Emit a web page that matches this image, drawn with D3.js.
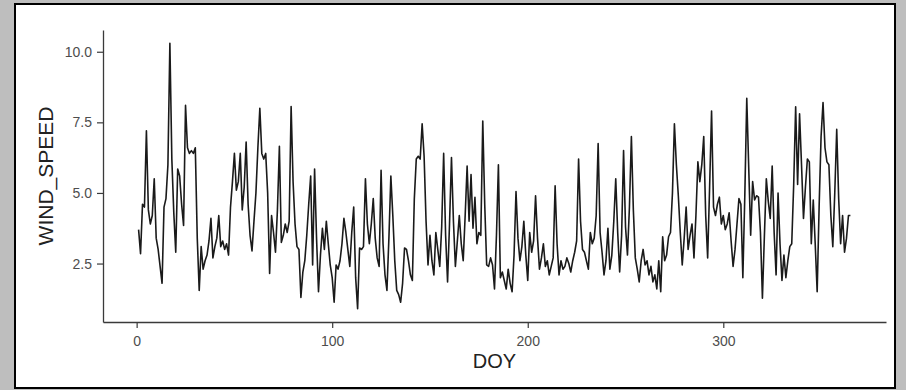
<!DOCTYPE html>
<html>
<head>
<meta charset="utf-8">
<script src="https://cdn.jsdelivr.net/npm/d3@7"></script>
<style>
  html, body { margin: 0; padding: 0; background: #bebebe; }
  svg { display: block; }
  text { font-family: "Liberation Sans", Arial, sans-serif; }
</style>
</head>
<body>
<svg id="chart" width="906" height="390"></svg>
<script>
// Daily mean wind speed, day of year 1..365
const doyStart = 1;
const windSpeed = [
  3.7, 2.85, 4.6, 4.5, 7.2, 4.4, 3.9, 4.2, 5.5, 3.4,
  3.0, 2.4, 1.8, 4.5, 4.8, 6.0, 10.3, 6.2, 4.3, 2.9,
  5.85, 5.6, 4.6, 3.85, 8.1, 6.6, 6.4, 6.5, 6.4, 6.6,
  3.4, 1.55, 3.1, 2.3, 2.6, 2.8, 3.3, 4.1, 2.7, 3.1,
  3.4, 4.2, 3.1, 3.3, 3.0, 3.2, 2.8, 4.5, 5.4, 6.4,
  5.1, 5.4, 6.4, 4.4, 5.2, 6.8, 4.6, 3.5, 2.95, 4.0,
  5.0, 6.6, 8.0, 6.4, 6.2, 6.4, 5.0, 2.15, 4.2, 3.6,
  2.9, 4.4, 6.65, 3.25, 3.5, 3.9, 3.6, 4.0, 8.06, 5.4,
  3.9, 3.1, 3.0, 1.3, 2.2, 2.6, 3.5, 4.6, 5.6, 2.45,
  5.85, 3.4, 1.5, 2.8, 3.75, 3.0, 4.0, 3.2, 2.45, 2.0,
  1.13, 2.45, 2.3, 2.6, 3.2, 4.1, 3.6, 3.0, 2.4, 3.6,
  4.5, 2.0, 0.9, 3.05, 3.0, 3.1, 5.5, 3.9, 3.2, 3.9,
  4.8, 3.4, 2.7, 2.4, 5.8, 3.2, 2.1, 1.55, 3.4, 5.6,
  4.2, 2.6, 1.55, 1.4, 1.13, 1.8, 3.05, 3.0, 2.6, 2.1,
  1.9, 4.8, 6.2, 6.3, 6.2, 7.45, 6.3, 4.0, 2.45, 3.5,
  2.6, 2.1, 3.6, 3.0, 2.4, 3.8, 6.4, 3.5, 1.85, 3.9,
  6.25, 4.0, 2.4, 3.3, 4.2, 3.2, 2.6, 4.2, 5.95, 4.0,
  5.65, 3.75, 4.85, 3.2, 3.6, 3.5, 7.55, 4.6, 2.45, 2.4,
  2.7, 2.45, 1.6, 3.5, 6.0, 2.0, 2.2, 1.9, 1.6, 2.3,
  1.8, 1.5, 2.8, 5.05, 3.4, 2.6, 3.1, 4.0, 2.8, 1.9,
  3.6, 2.9, 3.3, 4.9, 3.4, 2.3, 2.7, 3.2, 2.4, 2.6,
  2.1, 2.4, 2.7, 5.25, 3.2, 2.1, 2.6, 2.3, 2.4, 2.7,
  2.5, 2.2, 2.6, 2.9, 3.3, 6.2, 4.0, 3.0, 2.9, 2.6,
  2.3, 3.6, 3.2, 3.4, 4.2, 6.75, 3.6, 2.9, 2.1, 2.6,
  3.75, 2.3, 2.8, 4.0, 5.5, 3.6, 2.2, 3.5, 6.5, 3.8,
  2.8, 4.5, 7.0, 4.4, 2.7, 2.3, 1.85, 2.6, 3.0, 2.45,
  2.6, 2.1, 2.4, 1.85, 2.1, 1.6, 2.6, 1.5, 3.45, 2.6,
  2.8, 3.45, 3.6, 5.0, 7.45, 6.0, 4.9, 3.6, 2.45, 3.4,
  4.5, 3.0, 3.5, 3.9, 2.7, 4.2, 6.1, 5.4, 6.0, 7.0,
  4.2, 2.7, 5.2, 7.9, 4.5, 4.2, 4.6, 4.85, 3.9, 4.2,
  3.7, 3.9, 4.3, 3.3, 2.4, 3.0, 3.9, 4.8, 4.6, 2.0,
  4.9, 8.35, 5.9, 3.5, 5.4, 4.75, 4.9, 4.85, 3.6, 1.27,
  3.45, 5.5, 4.7, 4.1, 5.95, 3.6, 2.1, 5.0, 3.2, 1.9,
  2.8, 2.0, 2.6, 3.1, 3.2, 5.3, 8.05, 5.3, 7.8, 6.0,
  4.1, 5.2, 6.2, 6.1, 3.2, 4.75, 3.2, 1.5, 4.5, 7.0,
  8.2, 6.6, 6.1, 6.0, 4.2, 3.1, 5.0, 7.25, 4.8, 3.2,
  4.2, 2.9, 3.4, 4.2, 4.2
];
const xTicks = [0, 100, 200, 300];
const yTicks = [2.5, 5.0, 7.5, 10.0];
const xTitle = "DOY";
const yTitle = "WIND_SPEED";

const data = windSpeed.map((v, i) => ({ doy: doyStart + i, speed: v }));

const svg = d3.select("#chart");

// white panel with black frame
svg.append("rect")
  .attr("x", 15).attr("y", 4)
  .attr("width", 880).attr("height", 384)
  .attr("fill", "#ffffff")
  .attr("stroke", "#000000")
  .attr("stroke-width", 2);

const plot = { left: 103, right: 886, top: 30, bottom: 322 };

// expand the data range by 5% on each side
function expanded(ext) {
  const pad = (ext[1] - ext[0]) * 0.05;
  return [ext[0] - pad, ext[1] + pad];
}

const x = d3.scaleLinear()
  .domain(expanded(d3.extent(data, d => d.doy)))
  .range([plot.left, plot.right]);

const y = d3.scaleLinear()
  .domain(expanded(d3.extent(data, d => d.speed)))
  .range([plot.bottom, plot.top]);

const axisColor = "#3a3a3a";
const labelColor = "#4d4d4d";

const xAxis = svg.append("g")
  .attr("transform", `translate(0,${plot.bottom})`)
  .call(d3.axisBottom(x).tickValues(xTicks).tickFormat(d3.format("d")).tickSize(6).tickPadding(8).tickSizeOuter(0));

const yAxis = svg.append("g")
  .attr("transform", `translate(${plot.left},0)`)
  .call(d3.axisLeft(y).tickValues(yTicks).tickFormat(d3.format(".1f")).tickSize(6).tickPadding(5).tickSizeOuter(0));

[xAxis, yAxis].forEach(g => {
  g.select(".domain").attr("stroke", axisColor).attr("stroke-width", 1.3);
  g.selectAll(".tick line").attr("stroke", axisColor).attr("stroke-width", 1.2);
  g.selectAll(".tick text")
    .attr("fill", labelColor)
    .style("font-size", "14px")
    .style("font-family", "'Liberation Sans', Arial, sans-serif");
});

// series line
const line = d3.line()
  .x(d => x(d.doy))
  .y(d => y(d.speed));

svg.append("path")
  .datum(data)
  .attr("fill", "none")
  .attr("stroke", "#1a1a1a")
  .attr("stroke-width", 1.6)
  .attr("stroke-linejoin", "round")
  .attr("d", line);

// axis titles
svg.append("text")
  .attr("x", (plot.left + plot.right) / 2)
  .attr("y", 368)
  .attr("text-anchor", "middle")
  .attr("fill", "#222222")
  .style("font-size", "20px")
  .text(xTitle);

svg.append("text")
  .attr("transform", `translate(53,${(plot.top + plot.bottom) / 2}) rotate(-90)`)
  .attr("text-anchor", "middle")
  .attr("fill", "#222222")
  .style("font-size", "21px")
  .text(yTitle);
</script>
</body>
</html>
